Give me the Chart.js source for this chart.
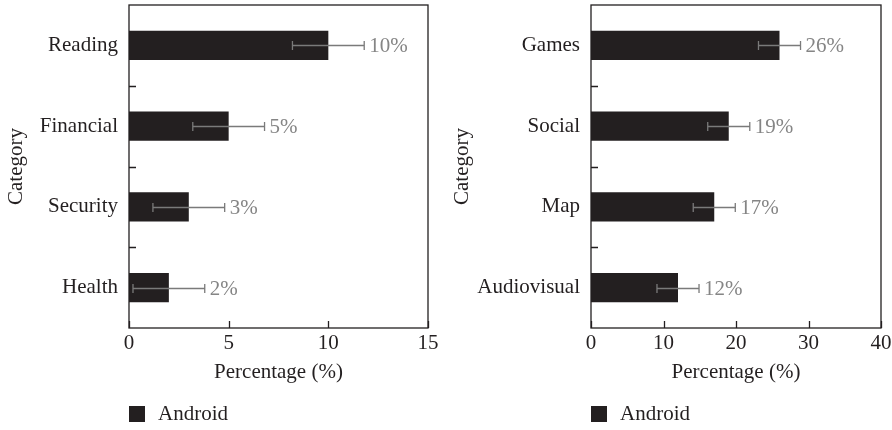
<!DOCTYPE html>
<html>
<head>
<meta charset="utf-8">
<script src="https://cdn.jsdelivr.net/npm/chart.js@4/dist/chart.umd.min.js"></script>
<style>
  html, body { margin: 0; padding: 0; background: #fff; }
  #wrap { position: relative; width: 892px; height: 430px; }
  .pane { position: absolute; top: 0; width: 446px; height: 430px; }
  #paneA { left: 0; }
  #paneB { left: 446px; }
</style>
</head>
<body>
<div id="wrap">
  <div class="pane" id="paneA"><canvas id="chartA" width="446" height="430"></canvas></div>
  <div class="pane" id="paneB"><canvas id="chartB" width="446" height="430"></canvas></div>
</div>
<script>
// Left panel: utility categories
const leftCategories = ['Reading', 'Financial', 'Security', 'Health'];
const leftValues = [10, 5, 3, 2];
const leftErrors = [1.8, 1.8, 1.8, 1.8];
const leftTicks = [0, 5, 10, 15];

// Right panel: entertainment categories
const rightCategories = ['Games', 'Social', 'Map', 'Audiovisual'];
const rightValues = [26, 19, 17, 12];
const rightErrors = [2.9, 2.9, 2.9, 2.9];
const rightTicks = [0, 10, 20, 30, 40];

const seriesName = 'Android';

const INK = '#231f20';
const ERR = '#7a7a7a';
const LABEL = '#858585';
const FONT = "'Liberation Serif', 'DejaVu Serif', serif";
const FS = 21;

// Frame, inward tick marks, error bars, value labels and legend
const decorations = {
  id: 'decorations',
  afterDatasetsDraw(chart, args, opts) {
    const { ctx, chartArea: a, scales: { x, y } } = chart;
    const ds = chart.data.datasets[0];
    ctx.save();

    // plot frame
    ctx.strokeStyle = INK;
    ctx.lineWidth = 1.3;
    ctx.strokeRect(a.left, a.top, a.right - a.left, a.bottom - a.top);

    // inward ticks on x axis
    ctx.beginPath();
    x.ticks.forEach(t => {
      const px = Math.round(x.getPixelForValue(t.value)) + 0.5;
      ctx.moveTo(px, a.bottom);
      ctx.lineTo(px, a.bottom - 7);
    });
    // inward ticks between categories on y axis
    for (let i = 0; i < ds.data.length - 1; i++) {
      const py = Math.round((y.getPixelForValue(i) + y.getPixelForValue(i + 1)) / 2) + 0.5;
      ctx.moveTo(a.left, py);
      ctx.lineTo(a.left + 7, py);
    }
    ctx.stroke();

    // error bars and value labels
    const errs = opts.errors;
    ctx.font = FS + 'px ' + FONT;
    ctx.textBaseline = 'middle';
    ctx.textAlign = 'left';
    ds.data.forEach((v, i) => {
      const cy = Math.round(y.getPixelForValue(i)) + 0.5;
      const x0 = x.getPixelForValue(v - errs[i]);
      const x1 = x.getPixelForValue(v + errs[i]);
      ctx.strokeStyle = ERR;
      ctx.lineWidth = 1.3;
      ctx.beginPath();
      ctx.moveTo(x0, cy); ctx.lineTo(x1, cy);
      ctx.moveTo(x0, cy - 4.5); ctx.lineTo(x0, cy + 4.5);
      ctx.moveTo(x1, cy - 4.5); ctx.lineTo(x1, cy + 4.5);
      ctx.stroke();
      ctx.fillStyle = LABEL;
      ctx.fillText(v + '%', x1 + 5, cy + 1);
    });

    // legend
    ctx.fillStyle = ds.backgroundColor;
    ctx.fillRect(a.left, 406, 16, 16);
    ctx.fillStyle = INK;
    ctx.fillText(ds.label, a.left + 29, 414);

    ctx.restore();
  }
};

function makeChart(id, categories, values, errors, ticks, yWidth, padRight) {
  const tickMax = ticks[ticks.length - 1];
  const step = ticks[1] - ticks[0];
  return new Chart(document.getElementById(id), {
    type: 'bar',
    data: {
      labels: categories,
      datasets: [{
        label: seriesName,
        data: values,
        backgroundColor: INK,
        borderWidth: 0,
        barPercentage: 0.36,
        categoryPercentage: 1.0
      }]
    },
    plugins: [decorations],
    options: {
      indexAxis: 'y',
      responsive: false,
      animation: false,
      events: [],
      layout: { padding: { left: 0, top: 5, right: padRight, bottom: 0 } },
      plugins: {
        legend: { display: false },
        tooltip: { enabled: false },
        decorations: { errors: errors }
      },
      scales: {
        x: {
          type: 'linear',
          min: ticks[0],
          max: tickMax,
          afterBuildTicks(scale) { scale.ticks = ticks.map(v => ({ value: v })); },
          ticks: { stepSize: step, color: INK, padding: 3, maxRotation: 0,
                   font: { family: FONT, size: FS } },
          grid: { display: false, drawTicks: false },
          border: { display: false },
          title: { display: true, text: 'Percentage (%)', color: INK,
                   font: { family: FONT, size: FS }, padding: { top: 0, bottom: 45 } },
          afterFit(scale) { scale.height = 102; scale.paddingLeft = 0; scale.paddingRight = 0; }
        },
        y: {
          type: 'category',
          offset: true,
          ticks: { color: INK, padding: 11, font: { family: FONT, size: FS } },
          grid: { display: false, drawTicks: false },
          border: { display: false },
          title: { display: true, text: 'Category', color: INK,
                   font: { family: FONT, size: FS }, padding: { top: 4, bottom: 0 } },
          afterFit(scale) { scale.width = yWidth; scale.paddingTop = 0; scale.paddingBottom = 0; }
        }
      }
    }
  });
}

makeChart('chartA', leftCategories, leftValues, leftErrors, leftTicks, 129, 18);
makeChart('chartB', rightCategories, rightValues, rightErrors, rightTicks, 145, 11);
</script>
</body>
</html>
